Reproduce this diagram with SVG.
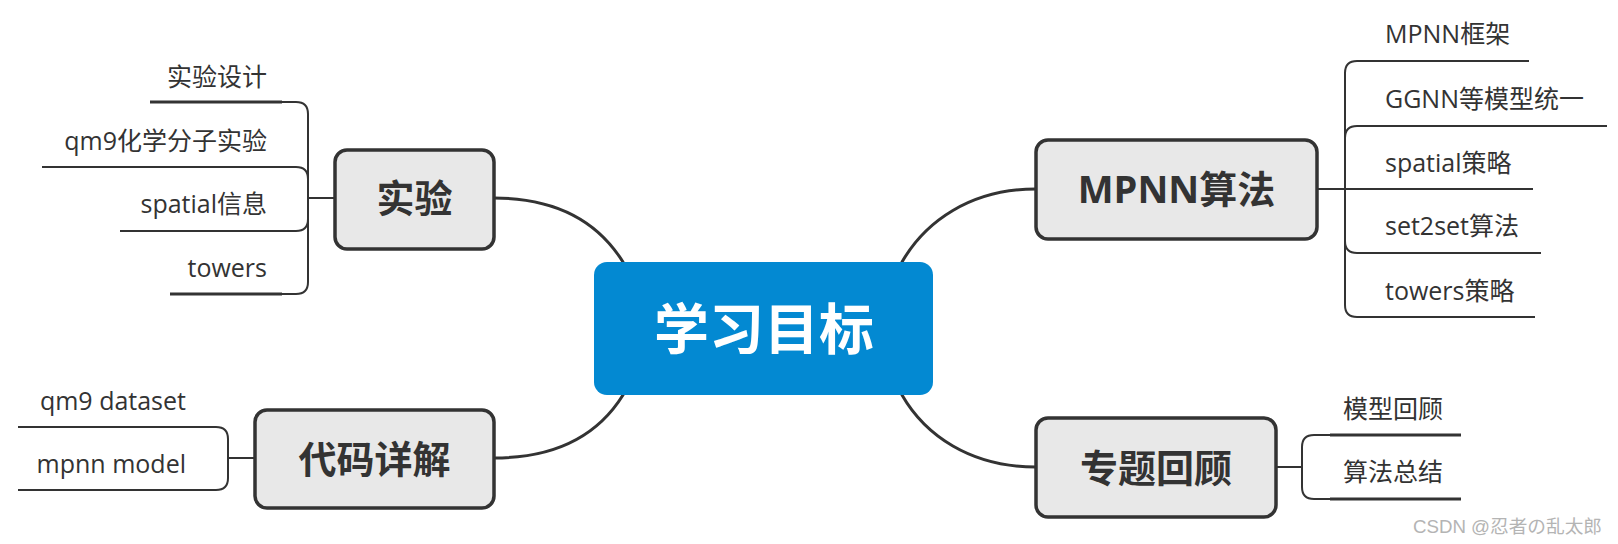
<svg xmlns="http://www.w3.org/2000/svg" width="1618" height="544" viewBox="0 0 1618 544">
<defs>
<style>
text{font-family:"Open Sans","Noto Sans CJK SC",sans-serif;fill:#333}
.conn{fill:none;stroke:#333;stroke-width:3;stroke-linecap:round}
.br{fill:none;stroke:#333;stroke-width:2}
.ul{fill:none;stroke:#333;stroke-width:3}
.box{fill:#e8e8e8;stroke:#333;stroke-width:3.5}
.bt{font-size:38px;font-weight:bold;text-anchor:middle}
.it{font-size:25px}
.l{text-anchor:end}
</style>
</defs>
<rect width="1618" height="544" fill="#fff"/>
<g id="connectors">
<path class="conn" d="M494,198 C560,198 600,225 623,262"/>
<path class="conn" d="M494,458 C560,458 600,432 623,395"/>
<path class="conn" d="M1036,189 C970,189 925,222 902,262"/>
<path class="conn" d="M1036,467 C970,467 925,435 902,395"/>
<path class="br" d="M308,114 L308,282 M308,198 L335,198"/>
<path class="br" d="M308,114 Q308,102 296,102 L282,102"/>
<path class="ul" d="M282,102 L150,102"/>
<path class="br" d="M308,179 Q308,167 296,167 L42,167"/>
<path class="br" d="M308,219 Q308,231 296,231 L120,231"/>
<path class="br" d="M308,282 Q308,294 296,294 L282,294"/>
<path class="ul" d="M282,294 L170,294"/>
<path class="br" d="M228,439 L228,478 M228,458 L255,458"/>
<path class="br" d="M228,439 Q228,427 216,427 L18,427"/>
<path class="br" d="M228,478 Q228,490 216,490 L18,490"/>
<path class="br" d="M1345,73 L1345,305 M1317,189 L1533,189"/>
<path class="br" d="M1345,73 Q1345,61 1357,61 L1529,61"/>
<path class="br" d="M1345,138 Q1345,126 1357,126 L1607,126"/>
<path class="br" d="M1345,241 Q1345,253 1357,253 L1541,253"/>
<path class="br" d="M1345,305 Q1345,317 1357,317 L1535,317"/>
<path class="br" d="M1302,447 L1302,487 M1276,467 L1302,467"/>
<path class="br" d="M1302,447 Q1302,435 1314,435 L1330,435"/>
<path class="ul" d="M1330,435 L1461,435"/>
<path class="br" d="M1302,487 Q1302,499 1314,499 L1330,499"/>
<path class="ul" d="M1330,499 L1461,499"/>
</g>
<g id="central">
<rect x="594" y="262" width="339" height="133" rx="13" fill="#0389d2"/>
<text x="764" y="349" style="font-size:55px;font-weight:bold;fill:#fff;text-anchor:middle">学习目标</text>
</g>
<g id="n-shiyan">
<rect class="box" x="335" y="150" width="159" height="99" rx="12"/>
<text class="bt" x="414.5" y="212">实验</text>
</g>
<g id="n-daima">
<rect class="box" x="255" y="410" width="239" height="98" rx="12"/>
<text class="bt" x="374.5" y="473">代码详解</text>
</g>
<g id="n-mpnn">
<rect class="box" x="1036" y="140" width="281" height="99" rx="12"/>
<text class="bt" x="1176.5" y="203">MPNN算法</text>
</g>
<g id="n-zhuanti">
<rect class="box" x="1036" y="418" width="240" height="99" rx="12"/>
<text class="bt" x="1156" y="482">专题回顾</text>
</g>
<g id="items-shiyan">
<text class="it l" x="267" y="86">实验设计</text>
<text class="it l" x="267" y="150">qm9化学分子实验</text>
<text class="it l" x="267" y="213">spatial信息</text>
<text class="it l" x="267" y="277">towers</text>
</g>
<g id="items-daima">
<text class="it l" x="186" y="410">qm9 dataset</text>
<text class="it l" x="186" y="473">mpnn model</text>
</g>
<g id="items-mpnn">
<text class="it" x="1385" y="43">MPNN框架</text>
<text class="it" x="1385" y="108">GGNN等模型统一</text>
<text class="it" x="1385" y="172">spatial策略</text>
<text class="it" x="1385" y="235">set2set算法</text>
<text class="it" x="1385" y="300">towers策略</text>
</g>
<g id="items-zhuanti">
<text class="it" x="1343" y="418">模型回顾</text>
<text class="it" x="1343" y="481">算法总结</text>
</g>
<text x="1413" y="533" textLength="189" lengthAdjust="spacingAndGlyphs" style="font-family:'Liberation Sans','Noto Sans CJK SC',sans-serif;font-size:18px;fill:#b4b4b4">CSDN @忍者の乱太郎</text>
</svg>
